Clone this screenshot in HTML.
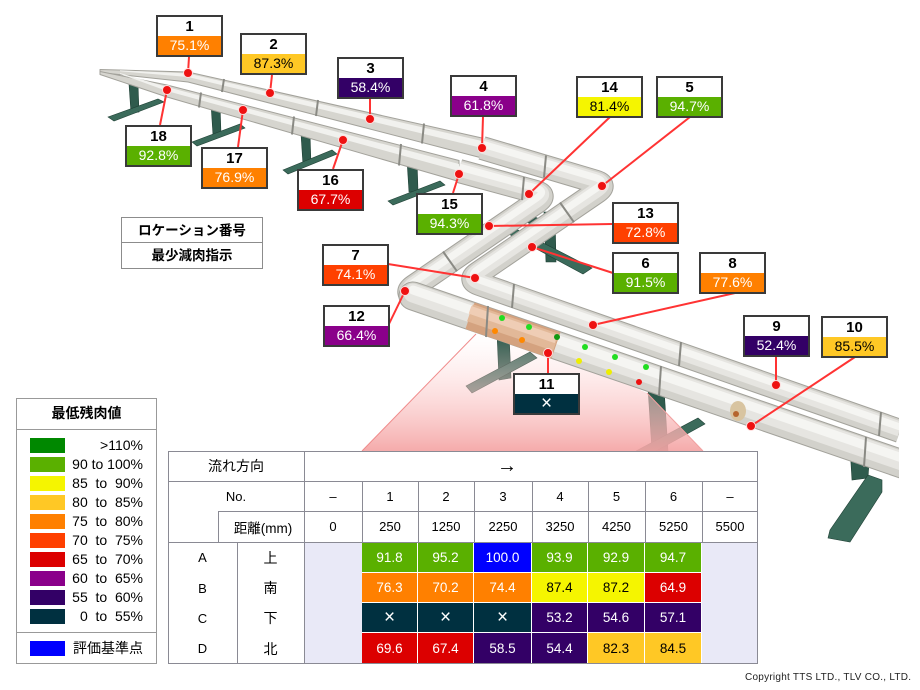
<!DOCTYPE html>
<html><head><meta charset="utf-8">
<style>
body{margin:0;background:#fff}
#w{position:relative;width:920px;height:690px;overflow:hidden;background:#fff;font-family:"Liberation Sans","Noto Sans CJK JP",sans-serif}
.lb{position:absolute;width:63px;height:38px;border:2px solid #3a3a3a;background:#fff}
.lb b{display:block;height:19px;line-height:20px;text-align:center;font-size:15px;color:#000}
.lb span{display:block;height:19px;line-height:19px;text-align:center;font-size:14px;color:#fff}
.c{position:absolute;display:flex;align-items:center;justify-content:center;font-size:13px;color:#000}
.d{position:absolute;display:flex;align-items:center;justify-content:center;font-size:13.5px;color:#fff;box-sizing:border-box;border-right:1px solid #fff;border-bottom:1px solid #fff}
.x{font-size:19px;font-weight:normal}
.sw{position:absolute;left:30px;width:35px;height:15px}
.lt{position:absolute;right:777px;font-size:14px;line-height:15px;white-space:pre;color:#000}
</style></head><body><div id="w">
<svg width="920" height="690" style="position:absolute;left:0;top:0">
<defs>
<linearGradient id="pk" gradientUnits="userSpaceOnUse" x1="0" y1="335" x2="0" y2="451">
<stop offset="0" stop-color="#ffdede" stop-opacity="0"/>
<stop offset="0.45" stop-color="#fbcaca" stop-opacity="0.5"/>
<stop offset="1" stop-color="#f4a4a4" stop-opacity="0.92"/>
</linearGradient>
<clipPath id="cp"><rect x="0" y="0" width="899" height="690"/></clipPath>
</defs>
<!-- supports -->
<g fill="#2f5b4d" stroke="#1f4035" stroke-width="0.6">
<polygon points="129,84 138,84 139,112 131,113"/>
<polygon points="108,117 158,99 164,102 114,121" fill="#3b6b5b"/>
<polygon points="211,104 220,104 221,134 213,135"/>
<polygon points="192,142 240,124 245,128 197,146" fill="#3b6b5b"/>
<polygon points="301,134 310,134 311,164 303,165"/>
<polygon points="283,170 332,150 337,154 288,174" fill="#3b6b5b"/>
<polygon points="407,160 417,160 418,191 409,192"/>
<polygon points="388,201 440,181 445,185 393,205" fill="#3b6b5b"/>
<polygon points="544,212 555,212 556,262 546,262"/>
<polygon points="505,232 514,228 592,268 583,274" fill="#3b6b5b"/>
<polygon points="510,214 520,210 550,224 541,229"/>
<polygon points="497,333 509,333 511,378 499,380"/>
<polygon points="466,386 530,352 537,358 472,393" fill="#456f62"/>
<polygon points="648,388 664,388 668,451 652,451"/>
<polygon points="636,451 698,418 705,424 656,451" fill="#3b6b5b"/>
<polygon points="850,447 870,447 868,478 852,480"/>
<polygon points="830,530 868,475 882,480 882,492 850,542 828,538" fill="#3b6b5b"/>
</g>
<!-- pink projection -->
<polygon points="476,334 362,451 703,451 647,393 555,352" fill="url(#pk)"/>
<line x1="476" y1="334" x2="362" y2="451" stroke="#f08c8c" stroke-width="1"/>
<line x1="647" y1="393" x2="703" y2="451" stroke="#f2a0a0" stroke-width="1"/>
<g clip-path="url(#cp)" fill="none" stroke-linejoin="round">
<!-- back upper pipe P1 -->
<polygon points="100,69.5 188,72 482,138 482,158 188,82 100,72.5" fill="#d6d5cf" stroke="#a3a29b" stroke-width="1"/>
<polygon points="120,70.3 188,73.5 482,141 482,148 188,77 120,71.3" fill="#f1f1ee"/>
<path d="M 482,148 L 595.5,181.6 Q 607,185 597,191.8 L 478,273.2 Q 468,280 479.3,284 L 900,431" stroke="#a3a29b" stroke-width="24"/>
<path d="M 482,148 L 595.5,181.6 Q 607,185 597,191.8 L 478,273.2 Q 468,280 479.3,284 L 900,431" stroke="#d2d1cb" stroke-width="22"/>
<path d="M 482,146 L 595.5,179.6 Q 607,183 597,189.8 L 478,271.2 Q 468,278 479.3,282 L 900,429" stroke="#e6e5e1" stroke-width="15"/>
<path d="M 482,144 L 595.5,177.6 Q 607,181 597,187.8 L 478,269.2 Q 468,276 479.3,280 L 900,427" stroke="#f5f5f2" stroke-width="7"/>
<!-- back lower pipe P2 -->
<polygon points="100,71.5 167,85 459,160.5 459,181.5 167,97 100,74.5" fill="#d6d5cf" stroke="#a3a29b" stroke-width="1"/>
<polygon points="120,73 167,87 459,164 459,171 167,91 120,74" fill="#f1f1ee"/>
<path d="M 459,171 L 535.4,191.8 Q 547,195 537.1,201.8 L 413.9,286.2 Q 404,293 415.4,296.9" stroke="#a3a29b" stroke-width="24"/>
<path d="M 459,171 L 535.4,191.8 Q 547,195 537.1,201.8 L 413.9,286.2 Q 404,293 415.4,296.9" stroke="#d2d1cb" stroke-width="22"/>
<path d="M 459,169 L 535.4,189.8 Q 547,193 537.1,199.8 L 413.9,284.2 Q 404,291 415.4,294.9" stroke="#e6e5e1" stroke-width="15"/>
<path d="M 459,167 L 535.4,187.8 Q 547,191 537.1,197.8 L 413.9,282.2 Q 404,289 415.4,292.9" stroke="#f5f5f2" stroke-width="7"/>
<path d="M 413,296 L 905,465" stroke="#a3a29b" stroke-width="29" stroke-linecap="round"/>
<path d="M 413,296 L 905,465" stroke="#d2d1cb" stroke-width="27" stroke-linecap="round"/>
<path d="M 413,293 L 905,462" stroke="#e6e5e1" stroke-width="19" stroke-linecap="round"/>
<path d="M 413,290 L 905,459" stroke="#f5f5f2" stroke-width="9" stroke-linecap="round"/>
<!-- copper section -->
<path d="M 470,315.8 L 556,345.4" stroke="#d4a27f" stroke-width="28"/>
<path d="M 470,312.8 L 556,342.4" stroke="#e2b898" stroke-width="18"/>
<path d="M 470,309.8 L 556,339.4" stroke="#efcdb5" stroke-width="8"/>
<!-- damage patch -->
<ellipse cx="738" cy="411" rx="8" ry="10" fill="#d8c4a0"/>
<circle cx="736" cy="414" r="3" fill="#b5652e"/>
<!-- clamps -->
<g stroke="#8a8a84" stroke-width="2">
<line x1="224" y1="79" x2="222" y2="92"/><line x1="318" y1="100" x2="316" y2="116"/>
<line x1="424" y1="123.5" x2="422" y2="143.5"/><line x1="546" y1="155.5" x2="544" y2="177.5"/>
<line x1="201" y1="92.5" x2="199" y2="107.5"/><line x1="294" y1="116.5" x2="292" y2="134.5"/>
<line x1="401" y1="144" x2="399" y2="165.5"/><line x1="524" y1="177" x2="522" y2="200"/>
<line x1="514" y1="284" x2="512" y2="308"/><line x1="681" y1="342" x2="679" y2="366"/>
<line x1="881" y1="412" x2="879" y2="436"/><line x1="488" y1="306" x2="486" y2="337"/>
<line x1="661" y1="366" x2="659" y2="396"/><line x1="866" y1="437" x2="864" y2="467"/>
<line x1="443" y1="251.5" x2="457" y2="271.3"/><line x1="560" y1="202.5" x2="574" y2="222.3"/>
</g>
</g>
<!-- measuring points -->
<g>
<circle cx="502" cy="318" r="3" fill="#22dd22"/><circle cx="529" cy="327" r="3" fill="#22dd22"/>
<circle cx="557" cy="337" r="3" fill="#119911"/><circle cx="585" cy="347" r="3" fill="#22dd22"/>
<circle cx="615" cy="357" r="3" fill="#22dd22"/><circle cx="646" cy="367" r="3" fill="#22dd22"/>
<circle cx="495" cy="331" r="3" fill="#ff8800"/><circle cx="522" cy="340" r="3" fill="#ff8800"/>
<circle cx="579" cy="361" r="3" fill="#eeee00"/><circle cx="609" cy="372" r="3" fill="#eeee00"/>
<circle cx="639" cy="382" r="3" fill="#ee1111"/>
</g>
<!-- leaders -->
<g stroke="#ff3333" stroke-width="2">
<line x1="189" y1="57" x2="188" y2="73"/><line x1="272" y1="75" x2="270" y2="93"/>
<line x1="370" y1="99" x2="370" y2="119"/><line x1="483" y1="117" x2="482" y2="148"/>
<line x1="167" y1="90" x2="160" y2="125"/><line x1="243" y1="110" x2="238" y2="147"/>
<line x1="343" y1="140" x2="333" y2="169"/><line x1="459" y1="174" x2="453" y2="193"/>
<line x1="610" y1="117" x2="529" y2="194"/><line x1="690" y1="117" x2="602" y2="186"/>
<line x1="612" y1="224" x2="489" y2="226"/><line x1="613" y1="273" x2="532" y2="247"/>
<line x1="388" y1="264" x2="475" y2="278"/><line x1="735" y1="293" x2="593" y2="325"/>
<line x1="776" y1="357" x2="776" y2="385"/><line x1="855" y1="357" x2="751" y2="426"/>
<line x1="548" y1="373" x2="548" y2="353"/><line x1="387" y1="328" x2="405" y2="291"/>
</g>
<g fill="#ee1111" stroke="#ffdddd" stroke-width="1">
<circle cx="188" cy="73" r="4.5"/><circle cx="270" cy="93" r="4.5"/><circle cx="370" cy="119" r="4.5"/>
<circle cx="482" cy="148" r="4.5"/><circle cx="167" cy="90" r="4.5"/><circle cx="243" cy="110" r="4.5"/>
<circle cx="343" cy="140" r="4.5"/><circle cx="459" cy="174" r="4.5"/><circle cx="529" cy="194" r="4.5"/>
<circle cx="602" cy="186" r="4.5"/><circle cx="489" cy="226" r="4.5"/><circle cx="532" cy="247" r="4.5"/>
<circle cx="475" cy="278" r="4.5"/><circle cx="593" cy="325" r="4.5"/><circle cx="776" cy="385" r="4.5"/>
<circle cx="751" cy="426" r="4.5"/><circle cx="548" cy="353" r="4.5"/><circle cx="405" cy="291" r="4.5"/>
</g>
</svg>

<!-- label boxes -->
<div class="lb" style="left:156px;top:15px"><b>1</b><span style="background:#ff8000">75.1%</span></div>
<div class="lb" style="left:240px;top:33px"><b>2</b><span style="background:#ffc825;color:#000">87.3%</span></div>
<div class="lb" style="left:337px;top:57px"><b>3</b><span style="background:#330066">58.4%</span></div>
<div class="lb" style="left:450px;top:75px"><b>4</b><span style="background:#8a008a">61.8%</span></div>
<div class="lb" style="left:576px;top:76px"><b>14</b><span style="background:#f5f500;color:#000">81.4%</span></div>
<div class="lb" style="left:656px;top:76px"><b>5</b><span style="background:#5ab000">94.7%</span></div>
<div class="lb" style="left:125px;top:125px"><b>18</b><span style="background:#5ab000">92.8%</span></div>
<div class="lb" style="left:201px;top:147px"><b>17</b><span style="background:#ff8000">76.9%</span></div>
<div class="lb" style="left:297px;top:169px"><b>16</b><span style="background:#dc0000">67.7%</span></div>
<div class="lb" style="left:416px;top:193px"><b>15</b><span style="background:#5ab000">94.3%</span></div>
<div class="lb" style="left:612px;top:202px"><b>13</b><span style="background:#ff4000">72.8%</span></div>
<div class="lb" style="left:322px;top:244px"><b>7</b><span style="background:#ff4000">74.1%</span></div>
<div class="lb" style="left:612px;top:252px"><b>6</b><span style="background:#5ab000">91.5%</span></div>
<div class="lb" style="left:699px;top:252px"><b>8</b><span style="background:#ff8000">77.6%</span></div>
<div class="lb" style="left:323px;top:305px"><b>12</b><span style="background:#8a008a">66.4%</span></div>
<div class="lb" style="left:743px;top:315px"><b>9</b><span style="background:#330066">52.4%</span></div>
<div class="lb" style="left:821px;top:316px"><b>10</b><span style="background:#ffc825;color:#000">85.5%</span></div>
<div class="lb" style="left:513px;top:373px"><b>11</b><span style="background:#003040;font-size:19px">×</span></div>

<!-- location legend -->
<div style="position:absolute;left:121px;top:217px;width:140px;height:50px;border:1px solid #8c8c8c;background:#fff">
<div style="height:24px;line-height:25px;text-align:center;font-weight:bold;font-size:13.5px;border-bottom:1px solid #8c8c8c">ロケーション番号</div>
<div style="height:25px;line-height:26px;text-align:center;font-weight:bold;font-size:13.5px">最少減肉指示</div>
</div>

<!-- color legend -->
<div style="position:absolute;left:16px;top:398px;width:139px;height:264px;border:1px solid #999;background:#fff"></div>
<div style="position:absolute;left:17px;top:429px;width:139px;height:1px;background:#999"></div>
<div style="position:absolute;left:17px;top:632px;width:139px;height:1px;background:#999"></div>
<div style="position:absolute;left:17px;top:403px;width:139px;text-align:center;font-weight:bold;font-size:14px;line-height:20px">最低残肉値</div>
<div class="sw" style="top:438px;background:#008800"></div><div class="lt" style="top:438px">&gt;110%</div>
<div class="sw" style="top:457px;background:#5ab000"></div><div class="lt" style="top:457px">90 to 100%</div>
<div class="sw" style="top:476px;background:#f5f500"></div><div class="lt" style="top:476px">85  to  90%</div>
<div class="sw" style="top:495px;background:#ffc825"></div><div class="lt" style="top:495px">80  to  85%</div>
<div class="sw" style="top:514px;background:#ff8000"></div><div class="lt" style="top:514px">75  to  80%</div>
<div class="sw" style="top:533px;background:#ff4000"></div><div class="lt" style="top:533px">70  to  75%</div>
<div class="sw" style="top:552px;background:#dc0000"></div><div class="lt" style="top:552px">65  to  70%</div>
<div class="sw" style="top:571px;background:#8a008a"></div><div class="lt" style="top:571px">60  to  65%</div>
<div class="sw" style="top:590px;background:#330066"></div><div class="lt" style="top:590px">55  to  60%</div>
<div class="sw" style="top:609px;background:#003040"></div><div class="lt" style="top:609px">0  to  55%</div>
<div class="sw" style="top:641px;background:#0000ff"></div><div class="lt" style="top:641px">評価基準点</div>

<!-- table -->
<div style="position:absolute;left:168px;top:451px;width:590px;height:213px;background:#fff"></div>
<div style="position:absolute;left:304px;top:542px;width:58px;height:122px;background:#e9e9f7"></div>
<div style="position:absolute;left:702px;top:542px;width:56px;height:122px;background:#e9e9f7"></div>
<div class="c" style="left:168px;top:451px;width:136px;height:30px;font-size:14px">流れ方向</div>
<div class="c" style="left:480px;top:451px;width:54px;height:30px;font-size:20px;font-weight:bold">→</div>
<div class="c" style="left:168px;top:481px;width:136px;height:30px">No.</div>
<div class="c" style="left:218px;top:511px;width:90px;height:31px;font-size:13.5px">距離(mm)</div>
<div class="c" style="left:304px;top:481px;width:58px;height:30px">–</div>
<div class="c" style="left:362px;top:481px;width:56px;height:30px">1</div>
<div class="c" style="left:418px;top:481px;width:56px;height:30px">2</div>
<div class="c" style="left:474px;top:481px;width:58px;height:30px">3</div>
<div class="c" style="left:532px;top:481px;width:56px;height:30px">4</div>
<div class="c" style="left:588px;top:481px;width:57px;height:30px">5</div>
<div class="c" style="left:645px;top:481px;width:57px;height:30px">6</div>
<div class="c" style="left:702px;top:481px;width:56px;height:30px">–</div>
<div class="c" style="left:304px;top:511px;width:58px;height:31px">0</div>
<div class="c" style="left:362px;top:511px;width:56px;height:31px">250</div>
<div class="c" style="left:418px;top:511px;width:56px;height:31px">1250</div>
<div class="c" style="left:474px;top:511px;width:58px;height:31px">2250</div>
<div class="c" style="left:532px;top:511px;width:56px;height:31px">3250</div>
<div class="c" style="left:588px;top:511px;width:57px;height:31px">4250</div>
<div class="c" style="left:645px;top:511px;width:57px;height:31px">5250</div>
<div class="c" style="left:702px;top:511px;width:56px;height:31px">5500</div>
<div class="c" style="left:168px;top:542px;width:69px;height:31px">A</div>
<div class="c" style="left:168px;top:573px;width:69px;height:30px">B</div>
<div class="c" style="left:168px;top:603px;width:69px;height:30px">C</div>
<div class="c" style="left:168px;top:633px;width:69px;height:31px">D</div>
<div class="c" style="left:237px;top:542px;width:67px;height:31px;font-size:14px">上</div>
<div class="c" style="left:237px;top:573px;width:67px;height:30px;font-size:14px">南</div>
<div class="c" style="left:237px;top:603px;width:67px;height:30px;font-size:14px">下</div>
<div class="c" style="left:237px;top:633px;width:67px;height:31px;font-size:14px">北</div>
<!-- row A -->
<div class="d" style="left:362px;top:542px;width:56px;height:31px;background:#5ab000">91.8</div>
<div class="d" style="left:418px;top:542px;width:56px;height:31px;background:#5ab000">95.2</div>
<div class="d" style="left:474px;top:542px;width:58px;height:31px;background:#0000ff">100.0</div>
<div class="d" style="left:532px;top:542px;width:56px;height:31px;background:#5ab000">93.9</div>
<div class="d" style="left:588px;top:542px;width:57px;height:31px;background:#5ab000">92.9</div>
<div class="d" style="left:645px;top:542px;width:57px;height:31px;background:#5ab000">94.7</div>
<!-- row B -->
<div class="d" style="left:362px;top:573px;width:56px;height:30px;background:#ff8000">76.3</div>
<div class="d" style="left:418px;top:573px;width:56px;height:30px;background:#ff8000">70.2</div>
<div class="d" style="left:474px;top:573px;width:58px;height:30px;background:#ff8000">74.4</div>
<div class="d" style="left:532px;top:573px;width:56px;height:30px;background:#f5f500;color:#000">87.4</div>
<div class="d" style="left:588px;top:573px;width:57px;height:30px;background:#f5f500;color:#000">87.2</div>
<div class="d" style="left:645px;top:573px;width:57px;height:30px;background:#dc0000">64.9</div>
<!-- row C -->
<div class="d x" style="left:362px;top:603px;width:56px;height:30px;background:#003040">×</div>
<div class="d x" style="left:418px;top:603px;width:56px;height:30px;background:#003040">×</div>
<div class="d x" style="left:474px;top:603px;width:58px;height:30px;background:#003040">×</div>
<div class="d" style="left:532px;top:603px;width:56px;height:30px;background:#330066">53.2</div>
<div class="d" style="left:588px;top:603px;width:57px;height:30px;background:#330066">54.6</div>
<div class="d" style="left:645px;top:603px;width:57px;height:30px;background:#330066">57.1</div>
<!-- row D -->
<div class="d" style="left:362px;top:633px;width:56px;height:31px;background:#dc0000">69.6</div>
<div class="d" style="left:418px;top:633px;width:56px;height:31px;background:#dc0000">67.4</div>
<div class="d" style="left:474px;top:633px;width:58px;height:31px;background:#330066">58.5</div>
<div class="d" style="left:532px;top:633px;width:56px;height:31px;background:#330066">54.4</div>
<div class="d" style="left:588px;top:633px;width:57px;height:31px;background:#ffc825;color:#000">82.3</div>
<div class="d" style="left:645px;top:633px;width:57px;height:31px;background:#ffc825;color:#000">84.5</div>

<svg width="920" height="690" style="position:absolute;left:0;top:0">
<g stroke="#8a8a94" stroke-width="1" fill="none">
<rect x="168.5" y="451.5" width="589" height="212"/>
<line x1="168" y1="481.5" x2="758" y2="481.5"/>
<line x1="218" y1="511.5" x2="758" y2="511.5"/>
<line x1="168" y1="542.5" x2="758" y2="542.5"/>
<line x1="304.5" y1="451" x2="304.5" y2="664"/>
<line x1="218.5" y1="511" x2="218.5" y2="542"/>
<line x1="237.5" y1="542" x2="237.5" y2="664"/>
<line x1="362.5" y1="481" x2="362.5" y2="542"/>
<line x1="418.5" y1="481" x2="418.5" y2="542"/>
<line x1="474.5" y1="481" x2="474.5" y2="542"/>
<line x1="532.5" y1="481" x2="532.5" y2="542"/>
<line x1="588.5" y1="481" x2="588.5" y2="542"/>
<line x1="645.5" y1="481" x2="645.5" y2="542"/>
<line x1="702.5" y1="481" x2="702.5" y2="542"/>
</g>
</svg>

<div style="position:absolute;left:745px;top:672px;font-size:10px;letter-spacing:0.25px;line-height:12px;color:#222;white-space:nowrap">Copyright TTS LTD., TLV CO., LTD.</div>
</div></body></html>
